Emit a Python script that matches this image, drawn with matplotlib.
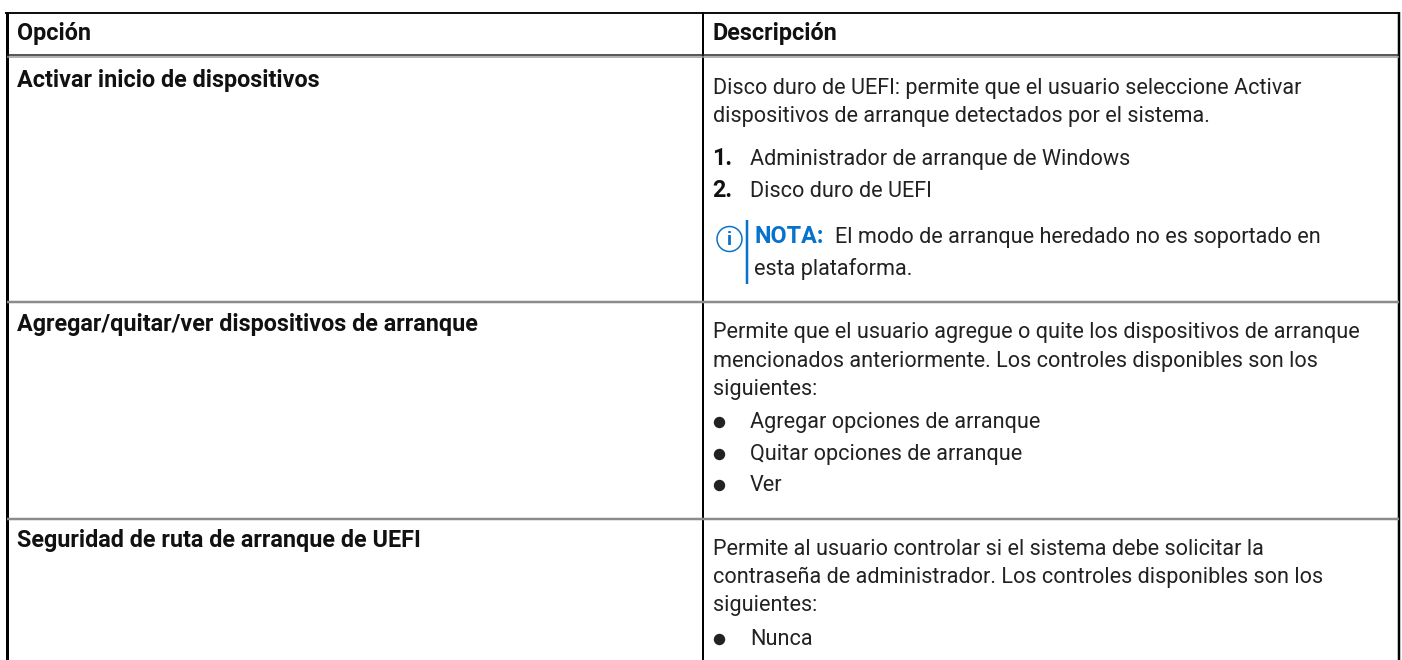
import matplotlib
matplotlib.use('Agg')
import matplotlib.pyplot as plt
from matplotlib.patches import Circle

plt.rcParams['font.family'] = ['Roboto', 'DejaVu Sans']

header_left = 'Opción'
header_right = 'Descripción'
row_labels = ['Activar inicio de dispositivos',
              'Agregar/quitar/ver dispositivos de arranque',
              'Seguridad de ruta de arranque de UEFI']
row1_intro = ['Disco duro de UEFI: permite que el usuario seleccione Activar',
              'dispositivos de arranque detectados por el sistema.']
row1_numbered = ['Administrador de arranque de Windows', 'Disco duro de UEFI']
note_bold = 'NOTA:'
note_lines = ['El modo de arranque heredado no es soportado en', 'esta plataforma.']
row2_intro = ['Permite que el usuario agregue o quite los dispositivos de arranque',
              'mencionados anteriormente. Los controles disponibles son los',
              'siguientes:']
row2_bullets = ['Agregar opciones de arranque', 'Quitar opciones de arranque', 'Ver']
row3_intro = ['Permite al usuario controlar si el sistema debe solicitar la',
              'contraseña de administrador. Los controles disponibles son los',
              'siguientes:']
row3_bullets = ['Nunca']

TXT = '#222222'
BLUE = '#0672cb'
FS = 15.55
FS_B = 16.8

fig = plt.figure(figsize=(14.02, 6.6), dpi=100)
ax = fig.add_axes([0, 0, 1, 1])
ax.set_xlim(0, 1402)
ax.set_ylim(660, 0)
ax.axis('off')

def px(w):
    return w * 0.72

# table rules
ax.plot([5, 1400], [13, 13], color='#111111', lw=px(2), solid_capstyle='butt')
ax.plot([7.3, 7.3], [12, 660], color='#000000', lw=px(3), solid_capstyle='butt')
ax.plot([1398.8, 1398.8], [12, 660], color='#000000', lw=px(2.5), solid_capstyle='butt')
ax.plot([703, 703], [12, 660], color='#000000', lw=px(2), solid_capstyle='butt')
ax.plot([7, 1399], [54.5, 54.5], color='#222222', lw=px(1.5), solid_capstyle='butt')
ax.plot([7, 1399], [57, 57], color='#999999', lw=px(1.5), solid_capstyle='butt')
for y in [302, 519]:
    ax.plot([7, 1399], [y, y], color='#8c8c8c', lw=px(2.5), solid_capstyle='butt')

def line(x, y, s, **kw):
    kw.setdefault('color', TXT)
    kw.setdefault('fontsize', FS)
    ax.text(x, y, s, va='baseline', ha='left', **kw)

def bold(x, y, s, color='#111111'):
    line(x, y, s, fontweight='bold', color=color, fontsize=FS_B)

bold(17, 40, header_left)
bold(713, 40, header_right)
for y, s in zip([87, 331, 547], row_labels):
    bold(17, y, s)

for y, s in zip([94, 122], row1_intro):
    line(713, y, s)
for i, (y, s) in enumerate(zip([165, 197], row1_numbered)):
    bold(712, y, f'{i + 1}.')
    line(750, y, s)

# note box
ax.add_patch(Circle((729.5, 239), 12.5, fill=False, ec=BLUE, lw=px(1.5)))
ax.text(729.5, 240, 'i', color=BLUE, fontsize=14, fontweight='bold', ha='center', va='center')
ax.plot([747, 747], [220, 284], color=BLUE, lw=px(2.5), solid_capstyle='butt')
bold(755, 243, note_bold, color=BLUE)
line(835, 243, note_lines[0])
line(754, 275, note_lines[1])

for y, s in zip([338, 367, 395], row2_intro):
    line(713, y, s)
for y, s in zip([428, 460, 491], row2_bullets):
    ax.plot([719], [y - 6], 'o', color=TXT, ms=px(10))
    line(750, y, s)

for y, s in zip([555, 583, 611], row3_intro):
    line(713, y, s)
for y, s in zip([645], row3_bullets):
    ax.plot([719], [y - 6], 'o', color=TXT, ms=px(10))
    line(750, y, s)

fig.savefig('out.png', dpi=100)
